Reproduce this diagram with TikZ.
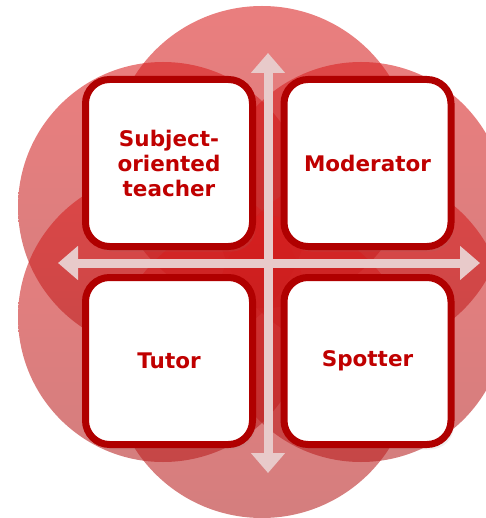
\documentclass[tikz,border=0pt]{standalone}
\usepackage{fontspec}
\newfontfamily\labelfont{DejaVu Sans}
\usetikzlibrary{arrows.meta,shadows}
\definecolor{ctop}{RGB}{218,29,29}
\definecolor{cbot}{RGB}{180,29,29}
\definecolor{boxred}{RGB}{176,0,0}
\definecolor{txtred}{RGB}{192,0,0}
\definecolor{arrowpink}{RGB}{232,202,202}
\begin{document}
\begin{tikzpicture}[x=1pt,y=-1pt,
  bub/.style={top color=ctop, bottom color=cbot, opacity=0.57},
  quad/.style={draw=boxred, line width=7pt, fill=white, rounded corners=24pt,
    minimum width=167pt, minimum height=167pt, inner sep=0pt, align=center,
    text=txtred, font=\labelfont\bfseries\fontsize{21.5}{25}\selectfont,
    drop shadow={shadow xshift=3pt, shadow yshift=-5pt, opacity=0.12},
    drop shadow={shadow xshift=1.5pt, shadow yshift=-2.5pt, opacity=0.25}},
  axisarrow/.style={draw=arrowpink, line width=9pt,
    {Triangle[width=33pt,length=20pt]}-{Triangle[width=33pt,length=20pt]}}
]
\useasboundingbox (0,0) rectangle (485,518);
% background circles
\shade[bub] (262,157) circle (151pt);
\shade[bub] (163,207) circle (145pt);
\shade[bub] (361,207) circle (145pt);
\shade[bub] (163,317) circle (145pt);
\shade[bub] (361,317) circle (145pt);
\shade[bub] (262,367) circle (151pt);
% axes
\coordinate (vt) at (268,53);
\coordinate (vb) at (268,473);
\coordinate (hl) at (58,263);
\coordinate (hr) at (480,263);
\draw[axisarrow] (vt) -- (vb);
\draw[axisarrow] (hl) -- (hr);
% quadrants
\node[quad] (subj) at (169,163) {Subject-\\oriented\\teacher};
\node[quad] (mod) at (367.5,163) {Moderator};
\node[quad] (tut) at (169,361) {Tutor};
\node[quad] (spot) at (367.5,361) {Spotter};
\end{tikzpicture}
\end{document}
